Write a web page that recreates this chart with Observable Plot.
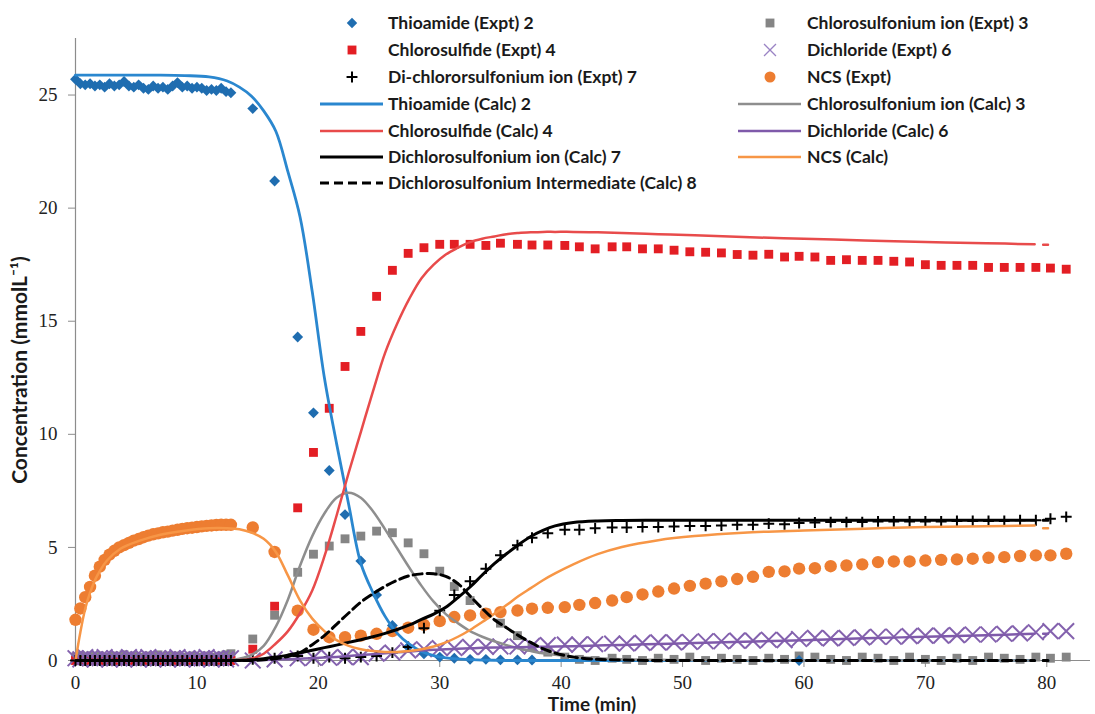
<!DOCTYPE html>
<html><head><meta charset="utf-8">
<script src="https://cdn.jsdelivr.net/npm/d3@7"></script>
<script src="https://cdn.jsdelivr.net/npm/@observablehq/plot@0.6"></script>
<style>
body{margin:0;background:#fff}
#chart{position:relative;width:1095px;height:714px}
</style>
</head><body><div id="chart"></div>
<script>
// ---------- experimental time points (min) ----------
const exptTime = [0,0.4,0.8,1.2,1.6,2.0,2.4,2.8,3.2,3.6,4.0,4.4,4.8,5.2,5.6,6.0,6.4,6.8,7.2,7.6,8.0,8.4,8.8,9.2,9.6,10.0,10.4,10.8,11.2,11.6,12.0,12.4,12.8,
 14.6,16.4,18.3,19.6,20.9,22.2,23.5,24.8,26.1,27.4,28.7,30.0,31.2,32.5,33.8,35.0,36.4,37.6,38.9,40.3,41.5,42.8,44.2,45.4,46.7,48.0,49.3,50.6,51.9,53.2,54.5,55.8,57.1,58.4,59.6,60.9,62.2,63.5,64.8,66.1,67.4,68.7,70.0,71.3,72.6,73.9,75.2,76.5,77.8,79.1,80.3,81.6];

const thioamideExpt = [25.7,25.5,25.45,25.5,25.4,25.45,25.35,25.5,25.4,25.45,25.6,25.4,25.35,25.45,25.3,25.25,25.4,25.3,25.35,25.25,25.4,25.55,25.35,25.4,25.3,25.35,25.3,25.2,25.25,25.2,25.3,25.15,25.1,
 24.4,21.2,14.3,10.95,8.4,6.45,4.4,2.9,1.55,0.6,0.3,0.15,0.1,0.05,0.05,0.03,0.03,0.02,
 null,null,null,null,null,null,null,null,null,null,null,null,null,null,null,null,
 0.0,
 null,null,null,null,null,null,null,null,null,null,null,null,null,null,null,null,null];

const chlorosulfoniumExpt = [0.15,0.2,0.1,0.2,0.15,0.2,0.1,0.15,0.2,0.15,0.25,0.1,0.2,0.15,0.1,0.2,0.15,0.25,0.1,0.2,0.15,0.2,0.1,0.15,0.2,0.1,0.15,0.2,0.1,0.15,0.2,0.25,0.3,
 0.95,2.0,3.9,4.7,5.06,5.38,5.5,5.72,5.65,5.2,4.72,3.95,3.27,2.65,2.1,1.65,1.1,0.6,0.37,0.15,0.05,0.0,
 0.1,0.05,0.0,0.1,0.05,0.15,0.0,0.1,0.05,0.0,0.1,0.05,0.2,0.15,0.05,0.0,0.15,0.1,0.0,0.15,0.05,0.0,0.1,0.0,0.15,0.1,0.05,0.15,0.1,0.15];

const chlorosulfideExpt = [0,0,0,0,0,0,0,0,0,0,0,0,0,0,0,0,0,0,0,0,0,0,0,0,0,0,0,0,0,0,0,0,0,
 0.5,2.4,6.75,9.2,11.15,13.0,14.55,16.1,17.25,18.0,
 18.25,18.40,18.40,18.40,18.35,18.45,18.40,18.37,18.37,18.35,18.29,18.20,18.29,18.29,18.20,18.20,18.14,18.07,18.05,18.02,17.95,17.92,17.96,17.84,17.87,17.84,17.69,17.72,17.69,17.69,17.65,17.62,17.50,17.47,17.47,17.47,17.38,17.38,17.38,17.38,17.35,17.30];

const dichlorideExpt = [0.1,0.05,0.15,0.1,0.05,0.1,0.15,0.05,0.1,0.1,0.05,0.15,0.1,0.05,0.1,0.15,0.05,0.1,0.1,0.05,0.1,0.15,0.05,0.1,0.1,0.05,0.1,0.15,0.05,0.1,0.1,0.05,0.1,
 0.0,0.05,0.1,0.12,0.12,0.15,0.15,0.3,0.35,0.45,0.5,0.55,0.55,0.6,0.6,0.62,0.62,0.65,0.68,0.7,
 0.7,0.72,0.75,0.75,0.78,0.8,0.8,0.82,0.85,0.85,0.88,0.88,0.92,0.9,0.95,1.0,0.98,1.0,1.02,1.05,
 1.05,1.08,1.1,1.1,1.12,1.15,1.15,1.18,1.2,1.25,1.3,1.3];

const dichlorosulfoniumExpt = [0,0,0,0,0,0,0,0,0,0,0,0,0,0,0,0,0,0,0,0,0,0,0,0,0,0,0,0,0,0,0,0,0,
 0.05,0.1,0.2,0.1,0.15,0.1,0.15,0.2,0.35,0.6,1.43,2.2,2.9,3.5,4.06,4.65,5.1,5.43,5.63,5.78,
 5.78,5.85,5.88,5.88,5.9,5.9,5.92,5.95,5.95,5.97,6.0,6.0,6.05,6.02,6.08,6.1,6.12,6.12,6.12,6.15,
 6.15,6.15,6.15,6.15,6.17,6.17,6.17,6.17,6.2,6.2,6.27,6.35];

const ncsExpt = [1.8,2.3,2.8,3.25,3.75,4.15,4.45,4.68,4.85,5.0,5.1,5.2,5.3,5.37,5.45,5.52,5.58,5.62,5.67,5.7,5.74,5.78,5.82,5.85,5.87,5.9,5.93,5.95,5.97,5.99,6.0,6.0,6.0,
 5.88,4.8,2.2,1.36,1.03,1.03,1.1,1.18,1.3,1.45,1.58,1.74,1.92,1.99,2.07,2.14,2.21,2.29,2.33,2.36,
 2.46,2.54,2.65,2.8,2.92,3.05,3.18,3.3,3.4,3.5,3.6,3.7,3.92,3.94,4.06,4.08,4.17,4.2,4.25,4.35,
 4.38,4.38,4.42,4.45,4.47,4.5,4.54,4.57,4.62,4.65,4.65,4.72];

// ---------- calculated curves ----------
const calcTime = [0,0.4,0.8,1.2,1.8,2.6,3.7,5.3,7,9,11,12.5,13.5,14.5,15.5,16.5,17.5,18.5,19.5,20.5,21.5,22.5,23.5,24.5,25.5,26.5,27.5,28.5,29.5,30.5,31.5,32.5,33.5,34.5,35.5,36.5,37.5,38.5,39.5,41,43,45,48,51,55,60,65,70,75,79,79.4,79.7,80.1];

const thioamideCalc = [25.88,25.88,25.88,25.88,25.88,25.88,25.88,25.88,25.88,25.86,25.8,25.62,25.35,24.95,24.3,23.4,21.6,19.6,16.3,12.5,9.6,6.9,4.3,3.0,1.95,1.2,0.72,0.4,0.22,0.12,0.07,0.04,0.02,0.01,0,0,0,0,0,0,0,0,0,0,0,0,0,0,0,0,null,0,0];
const chlorosulfoniumCalc = [0,0,0,0,0,0,0,0,0,0,0,0,0.08,0.25,0.65,1.5,2.7,4.2,5.5,6.5,7.2,7.42,7.2,6.6,5.8,4.95,4.1,3.3,2.6,2.05,1.65,1.3,1.05,0.85,0.68,0.53,0.42,0.32,0.25,0.17,0.1,0.06,0.03,0.015,0.01,0,0,0,0,0,null,0,0];
const chlorosulfideCalc = [0,0,0,0,0,0,0,0,0,0,0,0,0.02,0.08,0.3,0.75,1.3,2.1,3.1,4.6,6.4,8.3,10.1,11.9,13.6,14.9,16.0,16.9,17.5,17.95,18.25,18.5,18.65,18.75,18.85,18.9,18.93,18.95,18.95,18.95,18.93,18.9,18.85,18.8,18.72,18.65,18.57,18.5,18.45,18.4,null,18.38,18.38];
const dichlorideCalc = [0,0,0,0,0,0,0,0,0,0,0,0,0,0.01,0.02,0.04,0.06,0.08,0.1,0.13,0.16,0.2,0.24,0.28,0.32,0.36,0.4,0.44,0.47,0.5,0.52,0.54,0.56,0.57,0.58,0.59,0.6,0.61,0.62,0.63,0.66,0.69,0.73,0.77,0.83,0.9,0.98,1.05,1.12,1.18,null,1.18,1.18];
const dichlorosulfoniumCalc = [0,0,0,0,0,0,0,0,0,0,0,0,0,0.03,0.08,0.15,0.24,0.34,0.45,0.57,0.68,0.8,0.92,1.05,1.2,1.37,1.57,1.82,2.05,2.35,2.78,3.25,3.78,4.28,4.72,5.12,5.48,5.75,5.95,6.1,6.17,6.19,6.2,6.2,6.2,6.2,6.2,6.2,6.2,6.2,null,6.2,6.2];
const ncsCalc = [0,1.25,2.29,3.0,3.76,4.42,4.94,5.3,5.56,5.74,5.85,5.85,5.8,5.65,5.38,4.8,3.75,2.65,1.85,1.3,0.9,0.65,0.5,0.42,0.38,0.38,0.42,0.5,0.62,0.8,1.05,1.35,1.7,2.07,2.45,2.85,3.2,3.55,3.85,4.25,4.7,5.02,5.32,5.5,5.65,5.75,5.83,5.9,5.94,5.97,null,5.85,5.85];
const intermediateCalc = [0,0,0,0,0,0,0,0,0,0,0,0,0,0,0.03,0.08,0.18,0.35,0.7,1.1,1.6,2.1,2.58,2.95,3.28,3.55,3.75,3.83,3.84,3.72,3.4,2.85,2.3,1.8,1.45,1.1,0.8,0.52,0.33,0.15,0.05,0.02,0,0,0,0,0,0,0,0,null,0,0];

const yTicks = [0,5,10,15,20,25];
const xTicks = [0,10,20,30,40,50,60,70,80];

// ---------- colours ----------
const C = {
  thioDot:"#1F6DB0", thioLine:"#2A87CF",
  chlDot:"#E31E24", chlLine:"#E84B4B",
  sulDot:"#858585", sulLine:"#8E8E8E",
  dicDot:"#8462AE", dicLine:"#7F5AAA",
  ncsDot:"#ED7D31", ncsLine:"#F79646",
  black:"#000000"
};

const pts = vals => exptTime.map((t,i)=>({t, v: vals[i]})).filter(d => d.v != null);
const crv = vals => calcTime.map((t,i)=>({t, v: vals[i]}));

const W = 1095, H = 714;
const plot = Plot.plot({
  width: W, height: H,
  marginLeft: 75, marginRight: 5, marginTop: 38, marginBottom: 54,
  style: {fontFamily: "Liberation Serif", fontSize: "19px", color: "#222", background: "#fff"},
  x: {domain: [0, 83.6], label: null},
  y: {domain: [0, 27.5], label: null},
  marks: [
    Plot.ruleY([0], {stroke: "#8c8c8c", strokeWidth: 1.2}),
    Plot.ruleX([0], {stroke: "#8c8c8c", strokeWidth: 1.2}),
    Plot.axisY({ticks: yTicks, tickSize: 7, tickPadding: 11, stroke: "#8c8c8c", fill: "#222", label: null}),
    Plot.axisX({ticks: xTicks, tickSize: 7, tickPadding: 8, stroke: "#8c8c8c", fill: "#222", label: null}),
    // experimental markers
    Plot.dot(pts(chlorosulfoniumExpt), {x:"t", y:"v", symbol:"square", r:5, fill:C.sulDot}),
    Plot.dot(pts(chlorosulfideExpt), {x:"t", y:"v", symbol:"square", r:5, fill:C.chlDot}),
    Plot.dot(pts(dichlorideExpt), {x:"t", y:"v", symbol:"times", r:7.2, stroke:C.dicDot, strokeWidth:2}),
    Plot.dot(pts(ncsExpt), {x:"t", y:"v", symbol:"circle", r:6.2, fill:C.ncsDot}),
    Plot.dot(pts(thioamideExpt), {x:"t", y:"v", symbol:"diamond2", r:4.9, fill:C.thioDot}),
    Plot.dot(pts(dichlorosulfoniumExpt), {x:"t", y:"v", symbol:"plus", r:3.6, stroke:C.black, strokeWidth:2}),
    // calculated lines
    Plot.line(crv(thioamideCalc), {x:"t", y:"v", stroke:C.thioLine, strokeWidth:2.8, curve:"catmull-rom"}),
    Plot.line(crv(chlorosulfoniumCalc), {x:"t", y:"v", stroke:C.sulLine, strokeWidth:2.5, curve:"catmull-rom"}),
    Plot.line(crv(chlorosulfideCalc), {x:"t", y:"v", stroke:C.chlLine, strokeWidth:2.5, curve:"catmull-rom"}),
    Plot.line(crv(dichlorideCalc), {x:"t", y:"v", stroke:C.dicLine, strokeWidth:2.5, curve:"catmull-rom"}),
    Plot.line(crv(dichlorosulfoniumCalc), {x:"t", y:"v", stroke:C.black, strokeWidth:3, curve:"catmull-rom"}),
    Plot.line(crv(ncsCalc), {x:"t", y:"v", stroke:C.ncsLine, strokeWidth:2.5, curve:"catmull-rom"}),
    Plot.line(crv(intermediateCalc), {x:"t", y:"v", stroke:C.black, strokeWidth:3, strokeDasharray:"9,5", curve:"catmull-rom"})
  ]
});
document.getElementById("chart").appendChild(plot);

// ---------- legend & titles ----------
const svg = d3.select(plot);
const legendNames1 = ["Thioamide (Expt) 2","Chlorosulfide (Expt) 4","Di-chlororsulfonium ion (Expt) 7","Thioamide (Calc) 2","Chlorosulfide (Calc) 4","Dichlorosulfonium ion (Calc) 7","Dichlorosulfonium Intermediate (Calc) 8"];
const legendNames2 = ["Chlorosulfonium ion (Expt) 3","Dichloride (Expt) 6","NCS (Expt)","Chlorosulfonium ion (Calc) 3","Dichloride (Calc) 6","NCS (Calc)"];
const keys1 = [
  {type:"sym", sym:d3.symbolDiamond2, r:4.7, fill:C.thioDot},
  {type:"sym", sym:d3.symbolSquare, r:5, fill:C.chlDot},
  {type:"sym", sym:d3.symbolPlus, r:3.6, stroke:C.black, sw:2},
  {type:"line", stroke:C.thioLine, sw:2.8},
  {type:"line", stroke:C.chlLine, sw:2.5},
  {type:"line", stroke:C.black, sw:3},
  {type:"line", stroke:C.black, sw:3, dash:"9,5"}
];
const keys2 = [
  {type:"sym", sym:d3.symbolSquare, r:5, fill:C.sulDot},
  {type:"sym", sym:d3.symbolTimes, r:5.5, stroke:"#9a83c4", sw:1.3},
  {type:"sym", sym:d3.symbolCircle, r:5.5, fill:C.ncsDot},
  {type:"line", stroke:C.sulLine, sw:2.5},
  {type:"line", stroke:C.dicLine, sw:2.5},
  {type:"line", stroke:C.ncsLine, sw:2.5}
];
const rowsY = [23,50,77,104,131,157,183];
function drawLegend(names, keys, symX, lineX0, lineX1, textX){
  const g = svg.append("g").attr("text-anchor","start");
  names.forEach((n,i)=>{
    const y = rowsY[i], k = keys[i];
    if (k.type === "sym") {
      g.append("path").attr("transform",`translate(${symX},${y})`)
        .attr("d", d3.symbol(k.sym, k.r*k.r*Math.PI)())
        .attr("fill", k.fill || "none").attr("stroke", k.stroke || "none").attr("stroke-width", k.sw || 0);
    } else {
      g.append("line").attr("x1",lineX0).attr("x2",lineX1).attr("y1",y).attr("y2",y)
        .attr("stroke",k.stroke).attr("stroke-width",k.sw).attr("stroke-dasharray",k.dash||null);
    }
    g.append("text").attr("x",textX).attr("y",y).attr("dy","0.35em").attr("text-anchor","start")
      .attr("font-family","Lato").attr("font-weight","bold").attr("font-size",17.5).attr("fill","#1a1a1a").text(n);
  });
}
drawLegend(legendNames1, keys1, 352, 320, 383, 388);
drawLegend(legendNames2, keys2, 770, 738, 801, 807);

svg.append("text").attr("x",592).attr("y",704).attr("dy","0.35em").attr("text-anchor","middle")
  .attr("font-family","Lato").attr("font-weight","bold").attr("font-size",19).attr("fill","#1a1a1a").text("Time (min)");
svg.append("text").attr("transform","translate(20,370) rotate(-90)").attr("dy","0.35em").attr("text-anchor","middle")
  .attr("font-family","Lato").attr("font-weight","bold").attr("font-size",21).attr("fill","#1a1a1a").text("Concentration (mmolL⁻¹)");
</script></body></html>
